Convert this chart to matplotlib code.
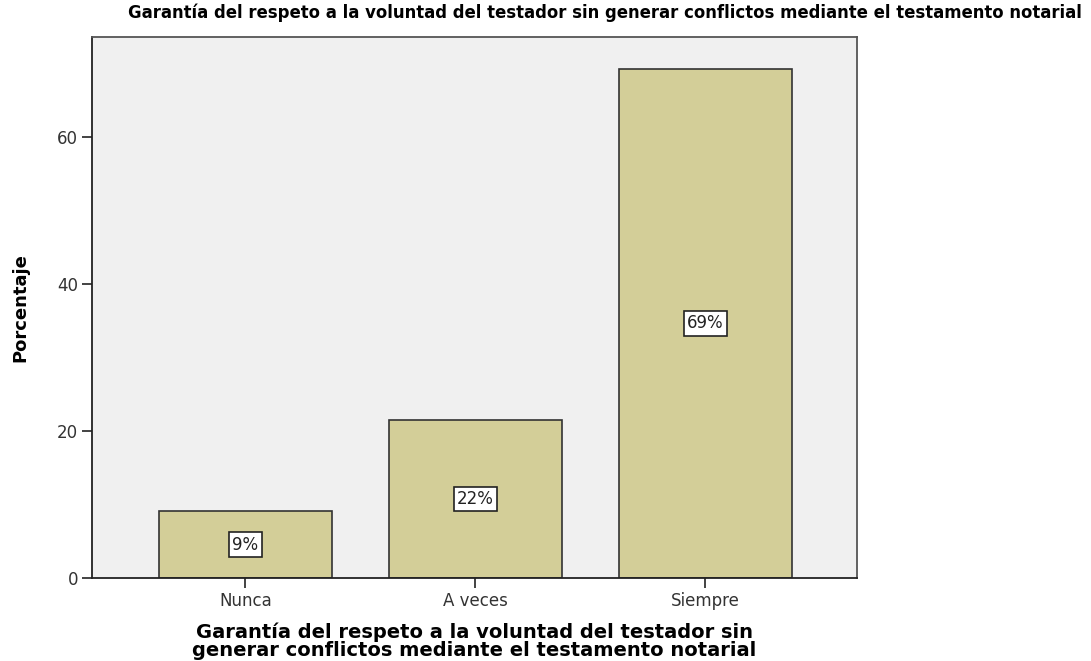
import matplotlib
matplotlib.use('Agg')
import matplotlib.pyplot as plt
import numpy as np

categorias = ['Nunca', 'A veces', 'Siempre']
porcentajes = [9.1, 21.5, 69.3]
etiquetas = ['9%', '22%', '69%']
titulo = 'Garantía del respeto a la voluntad del testador sin generar conflictos mediante el testamento notarial'
xlabel = 'Garantía del respeto a la voluntad del testador sin\ngenerar conflictos mediante el testamento notarial'

plt.rcParams['font.family'] = ['DejaVu Sans']

fig = plt.figure(figsize=(10.91, 6.61), dpi=100)
ax = fig.add_axes([92/1091, 1 - 578/661, (857-92)/1091, (578-37)/661])
ax.set_facecolor('#f0f0f0')

x = np.arange(len(categorias))
ax.bar(x, porcentajes, width=0.752, color='#d3ce98', edgecolor='#333333', linewidth=1.2, zorder=2)

for xi, v, lab in zip(x, porcentajes, etiquetas):
    ax.text(xi, v / 2, lab, ha='center', va='center', fontsize=12, color='#222222',
            bbox=dict(boxstyle='square,pad=0.2', facecolor='white', edgecolor='#222222', linewidth=1.2),
            zorder=3)

ax.set_xlim(-0.667, 2.66)
ax.set_ylim(0, 73.6)
ax.set_xticks(x)
ax.set_xticklabels(categorias, fontsize=12, color='#333333')
ax.set_yticks([0, 20, 40, 60])
ax.set_yticklabels(['0', '20', '40', '60'], fontsize=12, color='#333333')
ax.tick_params(axis='both', direction='out', length=7, width=1.2, color='#222222', pad=3)

for s in ['left', 'bottom']:
    ax.spines[s].set_color('#222222')
    ax.spines[s].set_linewidth(1.3)
for s in ['top', 'right']:
    ax.spines[s].set_color('#555555')
    ax.spines[s].set_linewidth(1.3)

ax.set_ylabel('Porcentaje', fontsize=13, fontweight='bold', labelpad=20)
ax.set_xlabel(xlabel, fontsize=14, fontweight='bold', linespacing=0.95, labelpad=9)

fig.text(605/1091, 1 - 13/661, titulo, ha='center', va='center', fontsize=11.9,
         fontweight='bold')

fig.savefig('out.png', dpi=100)
